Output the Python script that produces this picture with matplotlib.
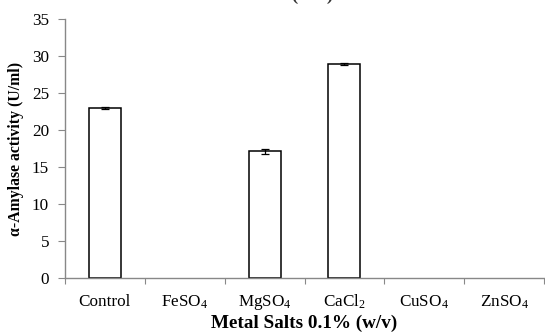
import matplotlib
matplotlib.use("Agg")
import matplotlib.pyplot as plt
import numpy as np

categories = ["Control", "FeSO$_\\mathregular{4}$", "MgSO$_\\mathregular{4}$",
              "CaCl$_\\mathregular{2}$", "CuSO$_\\mathregular{4}$", "ZnSO$_\\mathregular{4}$"]
values = [23.0, 0, 17.1, 28.9, 0, 0]
errors = [0.1, 0, 0.35, 0.1, 0, 0]
yticks = [0, 5, 10, 15, 20, 25, 30, 35]

plt.rcParams['font.family'] = ['Liberation Serif', 'DejaVu Serif']
plt.rcParams['mathtext.fontset'] = 'custom'
plt.rcParams['mathtext.rm'] = 'Liberation Serif'
plt.rcParams['mathtext.it'] = 'Liberation Serif:italic'
plt.rcParams['mathtext.bf'] = 'Liberation Serif:bold'

fig = plt.figure(figsize=(5.45, 3.36), dpi=100)
ax = fig.add_axes([65/545, 1-278/336, 479/545, (278-19)/336])

x = np.arange(len(categories)) + 0.5
hv = [v if v > 0 else np.nan for v in values]
ax.bar(x, hv, width=0.4, color='white', edgecolor='black', linewidth=1.1, zorder=2)
for xi, v, e in zip(x, values, errors):
    if v > 0:
        ax.errorbar(xi, v, yerr=e, fmt='none', ecolor='black', elinewidth=0.9,
                    capsize=2.6, capthick=0.9, zorder=3)

ax.set_xlim(0, len(categories))
ax.set_ylim(0, 35)
ax.set_yticks(yticks)
ax.set_xticks(np.arange(len(categories) + 1))
ax.set_xticklabels([])
ax.set_xticks(x, minor=True)
ax.set_xticklabels(categories, minor=True, va='baseline')
ax.tick_params(axis='x', which='minor', length=0, pad=20.5, labelsize=12.3)
ax.tick_params(axis='x', which='major', length=4, color='#888888', direction='out')
ax.tick_params(axis='y', length=5, color='#888888', direction='out', labelsize=12.3, pad=6.5)

for s in ['top', 'right']:
    ax.spines[s].set_visible(False)
for s in ['left', 'bottom']:
    ax.spines[s].set_color('#888888')
    ax.spines[s].set_linewidth(1)

ax.set_ylabel("α-Amylase activity (U/ml)", fontsize=11.3, fontweight='bold', labelpad=6)
ax.text(0.5, -50/259, "Metal Salts 0.1% (w/v)", transform=ax.transAxes,
        ha='center', va='baseline', fontsize=13.8, fontweight='bold')

fig.text(333/545, 1 + 0.5/336, "Metal Salts 0.1% (w/v)", ha='right', va='baseline',
         fontsize=13.8, fontweight='bold', color='#333333')

fig.savefig("out.png", dpi=100)
